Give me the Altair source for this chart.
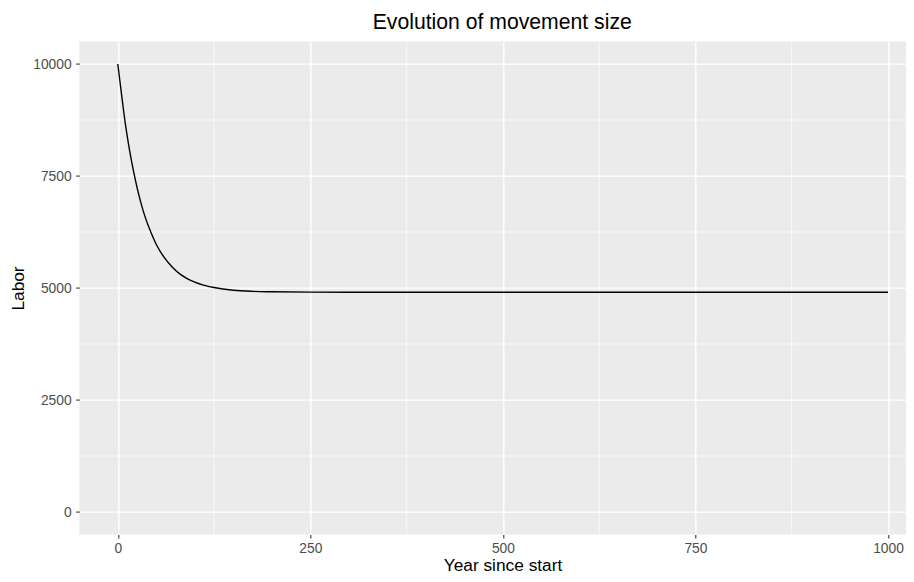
import altair as alt
import pandas as pd

# Values
years = [0, 5, 10, 15, 20, 25, 30, 35, 40, 45, 50, 55, 60, 70, 80, 90, 100,
         110, 125, 150, 175, 200, 250, 300, 500, 750, 1000]
labor = [10000, 9300, 8640, 8100, 7640, 7240, 6900, 6610, 6370, 6160, 5970,
         5820, 5690, 5480, 5320, 5210, 5130, 5070, 5010, 4950, 4925, 4915,
         4907, 4905, 4905, 4905, 4905]

x_ticks = [0, 250, 500, 750, 1000]
y_ticks = [0, 2500, 5000, 7500, 10000]
x_minor = [125, 375, 625, 875]
y_minor = [1250, 3750, 6250, 8750]

FONT = "Liberation Sans"

df = pd.DataFrame({"year": years, "labor": labor})
dfx = pd.DataFrame({"year": x_minor})
dfy = pd.DataFrame({"labor": y_minor})

x_scale = alt.Scale(domain=[-50, 1023.4], nice=False, zero=False)
y_scale = alt.Scale(domain=[-500, 10500], nice=False, zero=False)

x_axis = alt.Axis(
    values=x_ticks, title="Year since start", grid=True, gridColor="white",
    gridWidth=1.4, domain=False, tickColor="#333333", tickSize=3.7,
    tickWidth=1.1, labelColor="#4D4D4D", labelFontSize=13.8, labelPadding=3.5,
    labelFont=FONT, titleFont=FONT, titleFontSize=17.3, titleColor="black",
    titleFontWeight="normal", titleX=423.2, titleY=36.1,
    titleBaseline="alphabetic", titleAlign="center", format="d",
)
y_axis = alt.Axis(
    values=y_ticks, title="Labor", grid=True, gridColor="white",
    gridWidth=1.4, domain=False, tickColor="#333333", tickSize=3.7,
    tickWidth=1.1, labelColor="#4D4D4D", labelFontSize=13.8, labelPadding=4.5,
    labelFont=FONT, titleFont=FONT, titleFontSize=17.3, titleColor="black",
    titleFontWeight="normal", titleX=-56.3, titleY=246.4, titleAngle=270,
    titleBaseline="alphabetic", titleAlign="center", format="d",
)

minor_x = alt.Chart(dfx).mark_rule(color="white", strokeWidth=0.7).encode(
    x=alt.X("year:Q", scale=x_scale, axis=x_axis)
)
minor_y = alt.Chart(dfy).mark_rule(color="white", strokeWidth=0.7).encode(
    y=alt.Y("labor:Q", scale=y_scale, axis=y_axis)
)
line = alt.Chart(df).mark_line(color="black", strokeWidth=1.4,
                               interpolate="monotone").encode(
    x=alt.X("year:Q", scale=x_scale, axis=x_axis),
    y=alt.Y("labor:Q", scale=y_scale, axis=y_axis),
)

chart = alt.layer(minor_x, minor_y, line).properties(
    width=826.7,
    height=492.8,
    background="white",
    title=alt.TitleParams(
        "Evolution of movement size", fontSize=21.2, font=FONT,
        fontWeight="normal", color="black", anchor="middle", frame="group",
        dx=9.6, offset=0, dy=9.4, baseline="alphabetic",
    ),
    autosize=alt.AutoSizeParams(type="none"),
    padding={"left": 71.3, "top": 33.6, "right": 0, "bottom": 39.6},
).configure_view(fill="#EBEBEB", stroke=None)

chart.save("out.html", embed_options={"renderer": "svg", "actions": False})
